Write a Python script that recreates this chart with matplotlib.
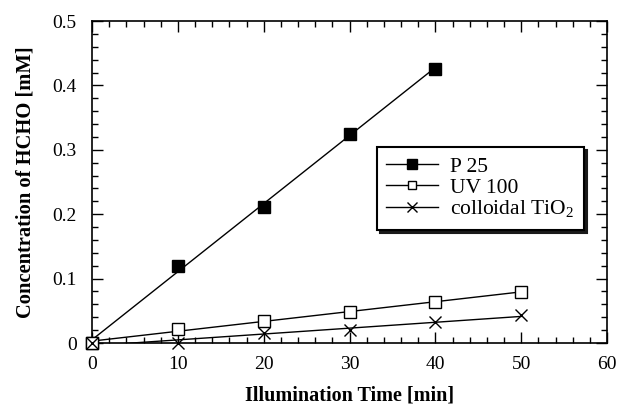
import numpy as np
import matplotlib
matplotlib.use("Agg")
import matplotlib.pyplot as plt
from matplotlib.ticker import MultipleLocator

plt.rcParams['font.family'] = ['Liberation Serif', 'DejaVu Serif']
plt.rcParams['mathtext.fontset'] = 'custom'
plt.rcParams['mathtext.rm'] = 'Liberation Serif'

t_p25 = [0, 10, 20, 30, 40]
c_p25 = [0.0, 0.120, 0.211, 0.325, 0.426]

t_uv = [0, 10, 20, 30, 40, 50]
c_uv = [0.0, 0.022, 0.034, 0.048, 0.064, 0.079]

t_col = [0, 10, 20, 30, 40, 50]
c_col = [0.0, 0.000, 0.015, 0.020, 0.033, 0.043]

fig = plt.figure(figsize=(6.19, 4.11), dpi=100)
ax = fig.add_axes([92/619, 1-343/411, (607-92)/619, (343-21)/411])

def fit_line(t, c):
    k, b = np.polyfit(t, c, 1)
    xs = np.array([0, max(t)])
    return xs, k*xs + b

# linear fits
xs, ys = fit_line(t_p25, c_p25)
ax.plot(xs, ys, color='black', lw=1)
xs, ys = fit_line(t_uv, c_uv)
ax.plot(xs, ys, color='black', lw=1)
xs, ys = fit_line(t_col, c_col)
ax.plot(xs, ys, color='black', lw=1)

# data points
ax.plot(t_p25, c_p25, 's', color='black', ms=8.5, clip_on=False, zorder=3)
ax.plot(t_uv, c_uv, 's', mfc='white', mec='black', mew=1, ms=8, clip_on=False, zorder=3)
ax.plot(t_col, c_col, 'x', color='black', ms=8, mew=1, clip_on=False, zorder=4)

# legend handles
h1, = ax.plot([], [], '-s', color='black', ms=6.5, lw=1)
h2, = ax.plot([], [], '-s', color='black', mfc='white', ms=6, lw=1)
h3, = ax.plot([], [], '-x', color='black', ms=6.5, lw=1)
leg = ax.legend([h1, h2, h3], ['P 25', 'UV 100', 'colloidal TiO$_2$'],
                loc='upper left', bbox_to_anchor=(0.553, 0.609), borderaxespad=0,
                fontsize=15.5, frameon=True, fancybox=False,
                shadow={'color': '0.1', 'alpha': 1},
                handlelength=2.4, handletextpad=0.55, borderpad=0.45, labelspacing=0.05)
leg.get_frame().set_edgecolor('black')
leg.get_frame().set_linewidth(1.5)

ax.set_xlim(0, 60)
ax.set_ylim(0, 0.5)
ax.xaxis.set_major_locator(MultipleLocator(10))
ax.xaxis.set_minor_locator(MultipleLocator(2))
ax.yaxis.set_minor_locator(MultipleLocator(0.02))
ax.set_yticks([0, 0.1, 0.2, 0.3, 0.4, 0.5])
ax.set_yticklabels(['0', '0.1', '0.2', '0.3', '0.4', '0.5'])
ax.tick_params(which='both', direction='in', top=True, right=True, labelsize=14, width=1)
ax.tick_params(which='major', length=8)
ax.tick_params(axis='y', which='major', pad=11)
ax.tick_params(axis='x', which='major', pad=9)
ax.tick_params(which='minor', length=4)
for s in ax.spines.values():
    s.set_linewidth(1.2)

ax.set_xlabel('Illumination Time [min]', fontsize=14.5, fontweight='bold', labelpad=9)
ax.set_ylabel('Concentration of HCHO [mM]', fontsize=14.8, fontweight='bold', labelpad=12)

fig.savefig('out.png', dpi=100)
